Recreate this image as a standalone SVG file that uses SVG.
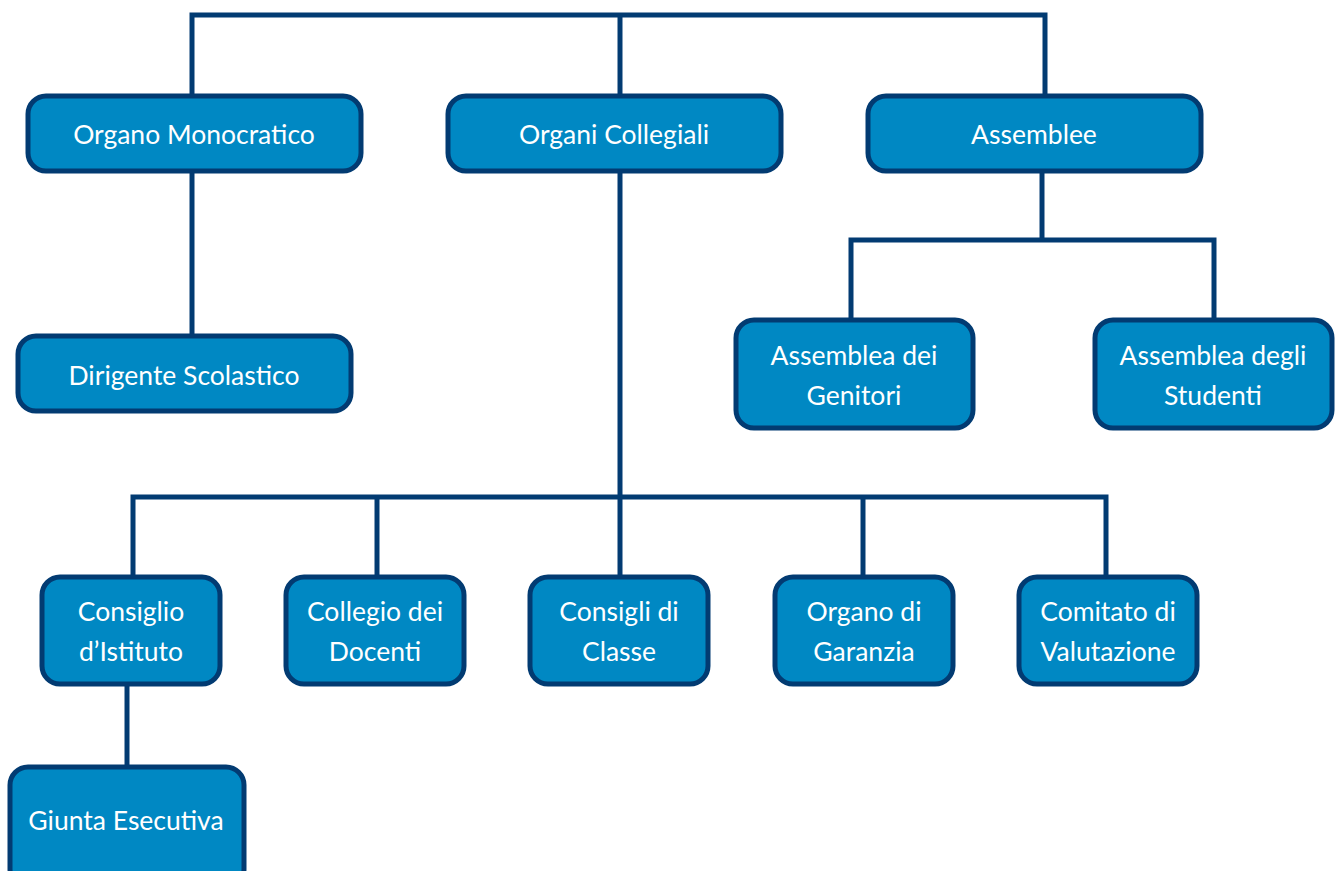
<svg xmlns="http://www.w3.org/2000/svg" width="1342" height="871" viewBox="0 0 1342 871">
<style>
.c{fill:none;stroke:#023b72;stroke-width:5;}
.n rect{fill:#0088c3;stroke:#023b72;stroke-width:5;}
.n text{fill:#fff;font-family:Lato,"Open Sans",sans-serif;font-size:26.5px;text-anchor:middle;}
</style>
<rect width="1342" height="871" fill="#fff"/>
<g id="connectors">
<polyline class="c" points="192,95 192,15 1045,15 1045,95"/>
<line class="c" x1="620" y1="15" x2="620" y2="95"/>
<line class="c" x1="192" y1="171" x2="192" y2="335"/>
<line class="c" x1="1042" y1="171" x2="1042" y2="240"/>
<polyline class="c" points="851,319 851,240 1214,240 1214,319"/>
<line class="c" x1="620" y1="171" x2="620" y2="576"/>
<polyline class="c" points="133,576 133,497 1106,497 1106,576"/>
<line class="c" x1="377" y1="497" x2="377" y2="576"/>
<line class="c" x1="863" y1="497" x2="863" y2="576"/>
<line class="c" x1="127" y1="685" x2="127" y2="766"/>
</g>
<g id="n1" class="n"><rect x="28" y="96" width="333" height="75" rx="18"/><text x="194" y="144">Organo Monocratico</text></g>
<g id="n2" class="n"><rect x="448" y="96" width="333" height="75" rx="18"/><text x="614" y="144">Organi Collegiali</text></g>
<g id="n3" class="n"><rect x="868" y="96" width="333" height="75" rx="18"/><text x="1034" y="144">Assemblee</text></g>
<g id="n4" class="n"><rect x="18" y="336" width="333" height="75" rx="18"/><text x="184" y="385">Dirigente Scolastico</text></g>
<g id="n5" class="n"><rect x="736" y="320" width="237" height="108" rx="18"/><text x="854" y="365">Assemblea dei</text><text x="854" y="405">Genitori</text></g>
<g id="n6" class="n"><rect x="1095" y="320" width="237" height="108" rx="18"/><text x="1213" y="365">Assemblea degli</text><text x="1213" y="405">Studenti</text></g>
<g id="n7" class="n"><rect x="42" y="577" width="178" height="107" rx="18"/><text x="131" y="621">Consiglio</text><text x="131" y="661">d’Istituto</text></g>
<g id="n8" class="n"><rect x="286" y="577" width="178" height="107" rx="18"/><text x="375" y="621">Collegio dei</text><text x="375" y="661">Docenti</text></g>
<g id="n9" class="n"><rect x="530" y="577" width="178" height="107" rx="18"/><text x="619" y="621">Consigli di</text><text x="619" y="661">Classe</text></g>
<g id="n10" class="n"><rect x="775" y="577" width="178" height="107" rx="18"/><text x="864" y="621">Organo di</text><text x="864" y="661">Garanzia</text></g>
<g id="n11" class="n"><rect x="1019" y="577" width="178" height="107" rx="18"/><text x="1108" y="621">Comitato di</text><text x="1108" y="661">Valutazione</text></g>
<g id="n12" class="n"><rect x="10" y="767" width="234" height="120" rx="18"/><text x="126" y="830">Giunta Esecutiva</text></g>
</svg>
